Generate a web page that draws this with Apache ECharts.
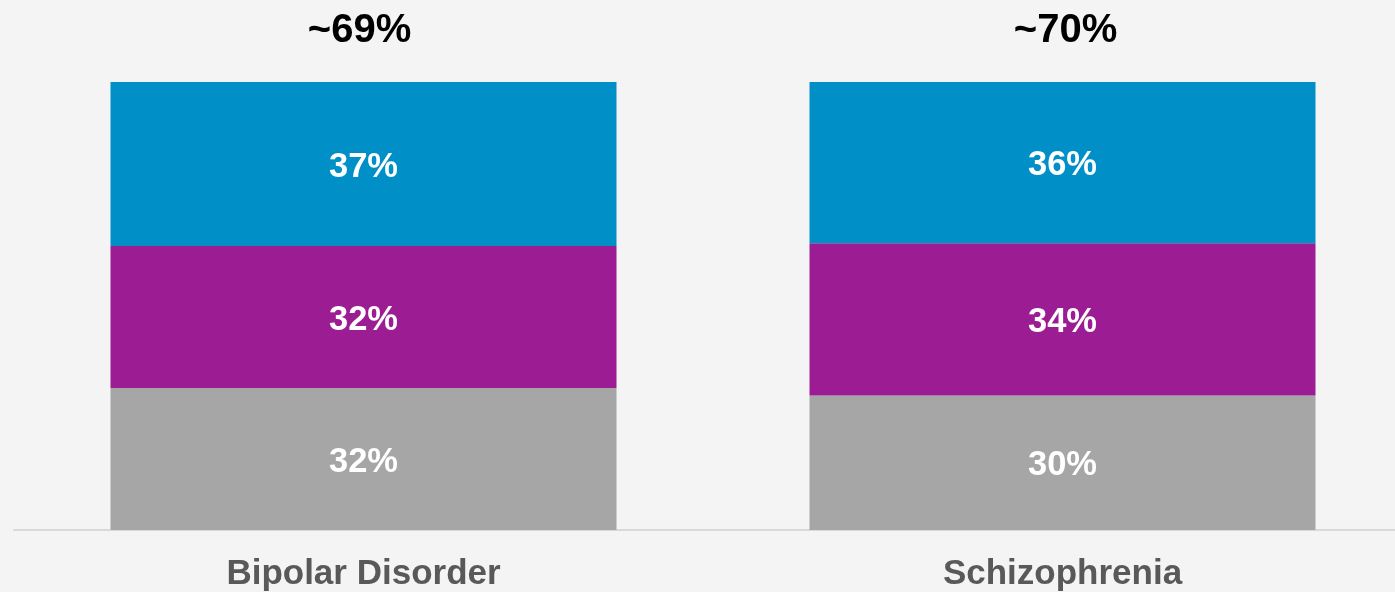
<!DOCTYPE html>
<html>
<head>
<meta charset="utf-8">
<script src="https://cdn.jsdelivr.net/npm/echarts@6/dist/echarts.min.js"></script>
<style>
html,body{margin:0;padding:0;background:#f4f4f4;overflow:hidden;width:1395px;height:592px;}
#chart{width:1412px;height:592px;}
</style>
</head>
<body>
<div id="chart"></div>
<script>
const categories = ['Bipolar Disorder', 'Schizophrenia'];
const totalLabels = ['~69%', '~70%'];
const grayValues = [32, 30];
const purpleValues = [32, 34];
const blueValues = [37, 36];

// 100% stacked: normalise each category to its total
const sums = categories.map((_, i) => grayValues[i] + purpleValues[i] + blueValues[i]);
const norm = arr => arr.map((v, i) => ({ value: v / sums[i] * 100, raw: v }));

const labelStyle = {
  show: true,
  position: 'inside',
  offset: [0, 3],
  color: '#ffffff',
  fontFamily: 'Liberation Sans, Arial, sans-serif',
  fontWeight: 'bold',
  fontSize: 34.5,
  formatter: p => p.data.raw + '%'
};

const topFont = {
  color: '#000000',
  fontFamily: 'Liberation Sans, Arial, sans-serif',
  fontWeight: 'bold',
  fontSize: 40
};

const chart = echarts.init(document.getElementById('chart'));
chart.setOption({
  backgroundColor: '#f4f4f4',
  animation: false,
  grid: { left: 14, right: 0, top: 82, bottom: 61, containLabel: false },
  xAxis: [
    {
      type: 'category',
      data: categories,
      position: 'bottom',
      axisLine: { show: true, lineStyle: { color: '#d9d9d9', width: 2 } },
      axisTick: { show: false },
      axisLabel: {
        color: '#595959',
        fontFamily: 'Liberation Sans, Arial, sans-serif',
        fontWeight: 'bold',
        fontSize: 35,
        margin: 27
      }
    },
    {
      type: 'category',
      data: totalLabels,
      position: 'top',
      axisLine: { show: false },
      axisTick: { show: false },
      axisLabel: {
        margin: 31,
        formatter: (v, i) => '{t' + i + '|' + v + '}',
        rich: {
          t0: Object.assign({ padding: [0, 8, 0, 0] }, topFont),
          t1: Object.assign({ padding: [0, 0, 0, 6] }, topFont)
        }
      }
    }
  ],
  yAxis: { type: 'value', min: 0, max: 100, show: false, splitLine: { show: false } },
  series: [
    { type: 'bar', stack: 'total', barWidth: 506, data: norm(grayValues), itemStyle: { color: '#a6a6a6' }, label: labelStyle },
    { type: 'bar', stack: 'total', barWidth: 506, data: norm(purpleValues), itemStyle: { color: '#9c1c93' }, label: labelStyle },
    { type: 'bar', stack: 'total', barWidth: 506, data: norm(blueValues), itemStyle: { color: '#008fc6' }, label: labelStyle }
  ]
});
</script>
</body>
</html>
